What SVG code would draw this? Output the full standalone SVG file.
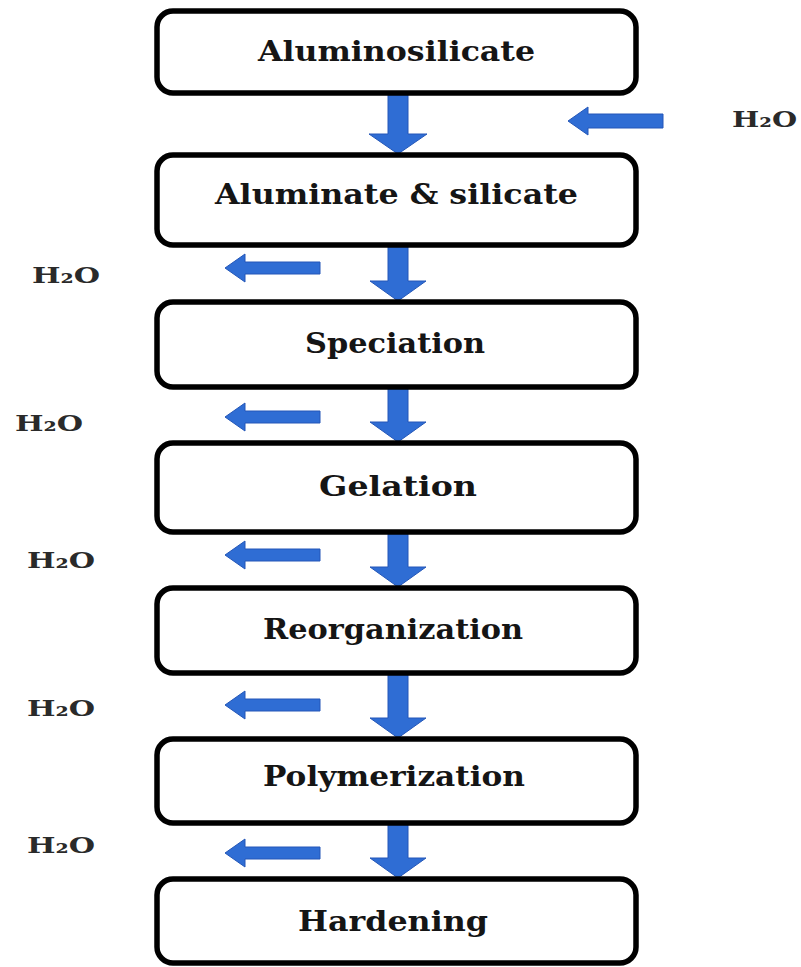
<svg xmlns="http://www.w3.org/2000/svg" width="801" height="967" viewBox="0 0 801 967">
<defs>
<style>
.box{fill:#ffffff;stroke:#000000;stroke-width:5.5}
.lbl{font-family:"DejaVu Serif","Liberation Serif",serif;font-weight:bold;font-size:27px;fill:#151515}
.h2o{font-family:"DejaVu Serif","Liberation Serif",serif;font-weight:bold;font-size:23px;fill:#2a2a2a}
.arr{fill:#2f6dd4;stroke:#2457b8;stroke-width:1}
</style>
</defs>
<rect width="801" height="967" fill="#ffffff"/>
<g id="connectors">
<polygon class="arr" points="388,93 408,93 408,134 427,134 398,154 369,134 388,134"/>
<polygon class="arr" points="388,245 408,245 408,281 426,281 398,301 370,281 388,281"/>
<polygon class="arr" points="388,387 408,387 408,422 426,422 398,442 370,422 388,422"/>
<polygon class="arr" points="388,532 408,532 408,567 426,567 398,587 370,567 388,567"/>
<polygon class="arr" points="388,673 408,673 408,718 426,718 398,738 370,718 388,718"/>
<polygon class="arr" points="388,823 408,823 408,858 426,858 398,878 370,858 388,858"/>
<polygon class="arr" points="568,121 588,107 588,114 663,114 663,128 588,128 588,135"/>
<polygon class="arr" points="225,268 245,254 245,262 320,262 320,274 245,274 245,282"/>
<polygon class="arr" points="225,417 245,403 245,411 320,411 320,423 245,423 245,431"/>
<polygon class="arr" points="225,555 245,541 245,549 320,549 320,561 245,561 245,569"/>
<polygon class="arr" points="225,705 245,691 245,699 320,699 320,711 245,711 245,719"/>
<polygon class="arr" points="225,853 245,839 245,847 320,847 320,859 245,859 245,867"/>
</g>
<g id="n1"><rect class="box" x="157" y="11" width="479" height="82" rx="16"/><text class="lbl" x="258" y="61" textLength="277" lengthAdjust="spacingAndGlyphs">Aluminosilicate</text></g>
<g id="n2"><rect class="box" x="157" y="155" width="479" height="90" rx="16"/><text class="lbl" x="215" y="204" textLength="363" lengthAdjust="spacingAndGlyphs">Aluminate &amp; silicate</text></g>
<g id="n3"><rect class="box" x="157" y="302" width="479" height="85" rx="16"/><text class="lbl" x="305" y="353" textLength="180" lengthAdjust="spacingAndGlyphs">Speciation</text></g>
<g id="n4"><rect class="box" x="157" y="443" width="479" height="89" rx="16"/><text class="lbl" x="319" y="496" textLength="158" lengthAdjust="spacingAndGlyphs">Gelation</text></g>
<g id="n5"><rect class="box" x="157" y="588" width="479" height="85" rx="16"/><text class="lbl" x="263" y="639" textLength="260" lengthAdjust="spacingAndGlyphs">Reorganization</text></g>
<g id="n6"><rect class="box" x="157" y="739" width="479" height="84" rx="16"/><text class="lbl" x="263" y="786" textLength="262" lengthAdjust="spacingAndGlyphs">Polymerization</text></g>
<g id="n7"><rect class="box" x="157" y="879" width="479" height="84" rx="16"/><text class="lbl" x="298" y="931" textLength="190" lengthAdjust="spacingAndGlyphs">Hardening</text></g>
<g id="water-labels">
<text class="h2o" x="732" y="127" textLength="65" lengthAdjust="spacingAndGlyphs">H₂O</text>
<text class="h2o" x="32" y="283" textLength="68" lengthAdjust="spacingAndGlyphs">H₂O</text>
<text class="h2o" x="15" y="431" textLength="68" lengthAdjust="spacingAndGlyphs">H₂O</text>
<text class="h2o" x="27" y="568" textLength="68" lengthAdjust="spacingAndGlyphs">H₂O</text>
<text class="h2o" x="27" y="716" textLength="68" lengthAdjust="spacingAndGlyphs">H₂O</text>
<text class="h2o" x="27" y="853" textLength="68" lengthAdjust="spacingAndGlyphs">H₂O</text>
</g>
</svg>
